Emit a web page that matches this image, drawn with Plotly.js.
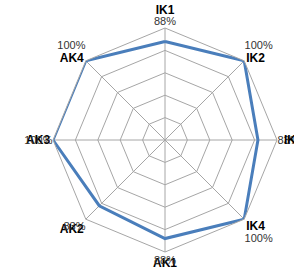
<!DOCTYPE html>
<html>
<head>
<meta charset="utf-8">
<script src="https://cdn.plot.ly/plotly-3.0.1.min.js"></script>
<style>html,body{margin:0;padding:0;background:#fff;}#chart{width:294px;height:278px;}</style>
</head>
<body>
<div id="chart"></div>
<script>
// Data
const categories = ['IK1', 'IK2', 'IK3', 'IK4', 'AK1', 'AK2', 'AK3', 'AK4'];
const values = [0.88, 1.00, 0.83, 1.00, 0.88, 0.83, 1.00, 1.00];
const valueLabels = ['88%', '100%', '83%', '100%', '88%', '83%', '100%', '100%'];
const ringValues = [0.2, 0.4, 0.6, 0.8, 1.0];

// label arrangement (style only)
const labelStack = ['catOut', 'pctAbove', 'catNear', 'catAbove', 'inline', 'inline', 'inline', 'pctAbove'];

const catText = categories.map((c, i) => {
  const s = labelStack[i];
  if (s === 'catOut' || s === 'catNear') return '';
  if (s === 'catAbove') return '<b>' + c + '</b><br>&nbsp;';
  if (s === 'pctAbove') return '&nbsp;<br><b>' + c + '</b>';
  return '<b>' + c + '</b>';
});
const catOutText = categories.map((c, i) => labelStack[i] === 'catOut' ? '<b>' + c + '</b>' : '');
const catNearText = categories.map((c, i) => labelStack[i] === 'catNear' ? '<b>' + c + '</b>' : '');
const pctText = valueLabels.map((p, i) => {
  const s = labelStack[i];
  if (s === 'catAbove') return '&nbsp;<br>' + p;
  if (s === 'pctAbove') return p + '<br>&nbsp;';
  return p;
});

const thetaClosed = categories.concat([categories[0]]);
const rClosed = values.concat([values[0]]);

const catFont = {family: 'Liberation Sans, Arial, sans-serif', size: 12, color: '#000000'};
const pctFont = {family: 'Liberation Sans, Arial, sans-serif', size: 11, color: '#333333'};

function ghost(sub) {
  return {
    type: 'scatterpolar', subplot: sub,
    r: values, theta: categories,
    mode: 'markers', marker: {opacity: 0, size: 1},
    hoverinfo: 'skip'
  };
}

const traces = [
  {
    type: 'scatterpolar', subplot: 'polar',
    r: rClosed, theta: thetaClosed,
    mode: 'lines',
    line: {color: '#4a7ebb', width: 3},
    hoverinfo: 'skip'
  },
  ghost('polar2'), ghost('polar3'), ghost('polar4')
];

const commonAngular = {
  type: 'category',
  rotation: 90,
  direction: 'clockwise',
  categoryorder: 'array',
  categoryarray: categories,
  tickmode: 'array',
  tickvals: categories,
  ticks: ''
};
const dom = {x: [0, 1], y: [0, 1]};

function labelPolar(text, font, len) {
  const ang = Object.assign({}, commonAngular, {
    ticktext: text,
    showgrid: false,
    showline: false,
    tickfont: font
  });
  if (len) {
    ang.ticks = 'outside';
    ang.ticklen = len;
    ang.tickcolor = 'rgba(0,0,0,0)';
  }
  return {
    domain: dom,
    bgcolor: 'rgba(0,0,0,0)',
    gridshape: 'linear',
    radialaxis: {range: [0, 1], visible: false},
    angularaxis: ang
  };
}

const layout = {
  width: 294, height: 278,
  margin: {l: 53, r: 17, t: 28, b: 26, pad: 0},
  paper_bgcolor: '#ffffff',
  showlegend: false,
  hovermode: false,
  polar: {
    domain: dom,
    bgcolor: 'rgba(0,0,0,0)',
    gridshape: 'linear',
    radialaxis: {
      range: [0, 1],
      tickmode: 'array',
      tickvals: ringValues,
      showticklabels: false,
      ticks: '',
      showline: false,
      gridcolor: '#a6a6a6',
      gridwidth: 1
    },
    angularaxis: Object.assign({}, commonAngular, {
      ticktext: catText,
      showgrid: true,
      gridcolor: '#a6a6a6',
      gridwidth: 1,
      showline: true,
      linecolor: '#a6a6a6',
      linewidth: 1,
      tickfont: catFont
    })
  },
  polar2: labelPolar(pctText, pctFont, 0),
  polar3: labelPolar(catOutText, catFont, 9),
  polar4: labelPolar(catNearText, catFont, 4)
};

Plotly.newPlot('chart', traces, layout, {displayModeBar: false, staticPlot: true});
</script>
</body>
</html>
